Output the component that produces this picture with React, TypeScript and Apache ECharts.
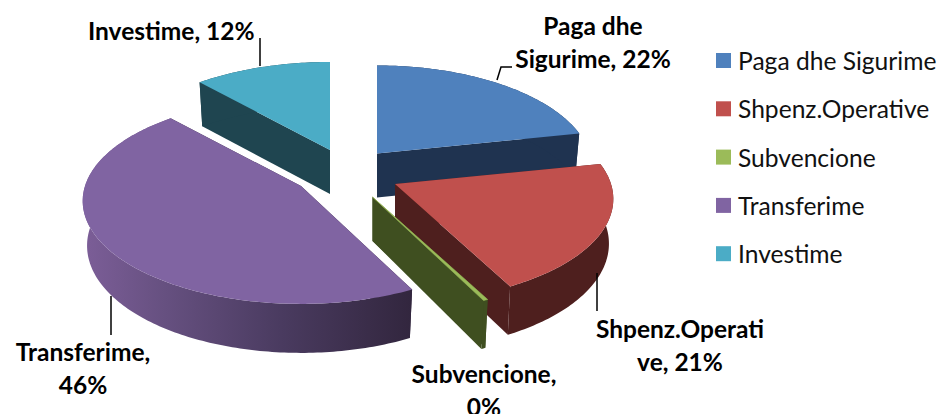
import React, { useEffect, useRef } from "react";
import * as echarts from "echarts";

const categories = ["Paga dhe Sigurime", "Shpenz.Operative", "Subvencione", "Transferime", "Investime"];
const values = [21.6, 20.5, 0.3, 45.5, 11.6];
const labelBreaks = [
  "Paga dhe\nSigurime, {p}%",
  "Shpenz.Operati\nve, {p}%",
  "Subvencione,\n{p}%",
  "Transferime,\n{p}%",
  "Investime, {p}%",
];
const topColors = ["#4F81BD", "#C0504D", "#9BBB59", "#8064A2", "#4BACC6"];
const wallColors = ["#1F3350", "#4E1F1E", "#3F4F20", "#8064A2", "#1F4550"];

// Layout of the exploded 3D pie (styling only).
const apexes = [[377, 153.5], [395, 184], [372.5, 197], [301, 186], [330, 150]];
const widthScale = [0.985, 1, 1, 1, 1];
const drawOrder = [2, 3, 5, 4, 1];
const labelAnchors = [
  { x: 593, y: 42, align: "center" },
  { x: 680, y: 345, align: "center" },
  { x: 484, y: 390, align: "center" },
  { x: 83, y: 368, align: "center" },
  { x: 88, y: 30, align: "left" },
];
const leaders = [
  [[497, 80], [501, 67], [512, 67]],
  [[597, 273], [597, 311]],
  [],
  [[111, 296], [111, 335]],
  [[260, 38], [260, 66]],
];

const RX = 216;
const RY = 100.8;
const K = 0.145;
const FONT = "Lato";

const total = values.reduce((a, b) => a + b, 0);

function project(apex: number[], t: number, bottom: boolean, scale: number) {
  const X = Math.sin(t);
  const Y = Math.cos(t);
  const p = 1 / (1 + K * Y);
  const dx = RX * scale * X * p;
  const dy = -RY * Y * p;
  if (!bottom) return [apex[0] + dx, apex[1] + dy];
  const depth = 44 + (Y < 0 ? -5 * Y : 0);
  return [apex[0] + dx * 0.98, apex[1] + dy + depth];
}

function makeRenderItem(index: number) {
  return (_params: any, api: any) => {
    const v = api.value(0);
    const before = values.slice(0, index).reduce((a, b) => a + b, 0);
    const a0 = (before / total) * Math.PI * 2;
    const a1 = ((before + v) / total) * Math.PI * 2;
    const apex = apexes[index];
    const steps = Math.max(2, Math.ceil((a1 - a0) * 60));
    const topArc: number[][] = [];
    const bottomArc: number[][] = [];
    for (let i = 0; i <= steps; i++) {
      const t = a0 + ((a1 - a0) * i) / steps;
      topArc.push(project(apex, t, false, widthScale[index]));
      bottomArc.push(project(apex, t, true, widthScale[index]));
    }
    const apexBottom = [apex[0], apex[1] + 44];
    const wall = wallColors[index];
    const outerFill =
      index === 3
        ? new echarts.graphic.LinearGradient(0, 0, 1, 0, [
            { offset: 0, color: "#7C5E98" },
            { offset: 0.25, color: "#665080" },
            { offset: 0.6, color: "#4A3B60" },
            { offset: 1, color: "#32263E" },
          ])
        : wall;
    const faceFill = index === 3 ? "#32263E" : wall;
    const children: any[] = [
      {
        type: "polygon",
        shape: { points: [apex, topArc[0], bottomArc[0], apexBottom] },
        style: { fill: faceFill },
      },
      {
        type: "polygon",
        shape: { points: [apex, topArc[steps], bottomArc[steps], apexBottom] },
        style: { fill: faceFill },
      },
      {
        type: "polygon",
        shape: { points: [...topArc, ...bottomArc.slice().reverse()] },
        style: { fill: outerFill },
      },
      {
        type: "polygon",
        shape: { points: [apex, ...topArc] },
        style: { fill: topColors[index], stroke: topColors[index], lineWidth: index === 2 ? 0.6 : 0 },
      },
    ];
    return { type: "group", children };
  };
}

const pct = (v: number) => String(Math.round((v / total) * 100));

export default function App() {
  const ref = useRef<HTMLDivElement>(null);
  useEffect(() => {
    document.body.style.margin = "0";
    const chart = echarts.init(ref.current!, null, { renderer: "svg" });
    chart.setOption({
      animation: false,
      backgroundColor: "#ffffff",
      legend: {
        orient: "vertical",
        left: 711,
        top: 43,
        itemWidth: 15,
        itemHeight: 15,
        itemGap: 23.3,
        icon: "rect",
        selectedMode: false,
        textStyle: { fontFamily: FONT, fontSize: 24.6, color: "#111111", padding: [0, 0, 0, 2] },
        data: categories.map((name, i) => ({ name, itemStyle: { color: topColors[i] } })),
      },
      series: categories.map((name, i) => ({
        type: "custom",
        name,
        coordinateSystem: "none",
        z: drawOrder[i],
        silent: true,
        itemStyle: { color: topColors[i] },
        data: [[values[i]]],
        renderItem: makeRenderItem(i),
      })),
      graphic: {
        elements: [
          ...leaders
            .filter((l) => l.length)
            .map((pts) => ({
              type: "polyline",
              z: 20,
              silent: true,
              shape: { points: pts },
              style: { stroke: "#000000", lineWidth: 1.5, fill: "none" },
            })),
          ...labelAnchors.map((a, i) => ({
            type: "text",
            z: 20,
            silent: true,
            x: a.x,
            y: a.y,
            style: {
              text: labelBreaks[i].replace("{p}", pct(values[i])),
              fontFamily: FONT,
              fontWeight: 700,
              fontSize: 24.5,
              lineHeight: 33,
              fill: "#000000",
              align: a.align,
              verticalAlign: "middle",
            },
          })),
        ],
      },
    });
    return () => chart.dispose();
  }, []);
  return <div ref={ref} style={{ position: "fixed", left: 0, top: 0, width: 939, height: 414 }} />;
}
